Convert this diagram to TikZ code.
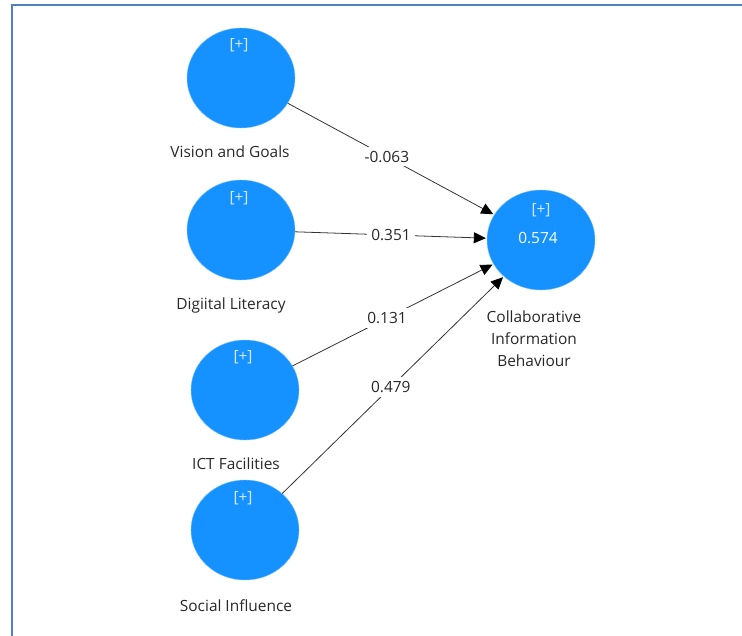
\documentclass[tikz,border=0pt]{standalone}
\usepackage{fontspec}
\setmainfont{Open Sans}
\usepackage{tikz}
\usetikzlibrary{arrows.meta}
\usetikzlibrary{shapes.geometric}
\definecolor{lvblue}{RGB}{21,146,255}
\definecolor{framec}{RGB}{79,129,189}
\definecolor{txt}{RGB}{40,40,40}
\definecolor{plusc}{RGB}{215,232,255}

\begin{document}
\begin{tikzpicture}[x=1bp, y=-1bp, font=\fontsize{15.5}{18}\selectfont, text=txt,
	lv/.style={draw=lvblue!60!white, fill=lvblue, ellipse, minimum width=108bp, minimum height=100bp, inner sep=0pt},
	path/.style={draw=black!80, line width=0.8pt, -{Triangle[length=12bp, width=11bp, color=black]}, shorten >=1pt},
	coef/.style={fill=white, inner sep=4pt},
	plus/.style={text=plusc}]
	\useasboundingbox (0,0) rectangle (742,636);
	\draw[framec, line width=1.5pt] (12,640) -- (12,5) -- (745,5);

	\node[lv] (vg) at (241,78) {};
	\node[lv] (dl) at (241,230) {};
	\node[lv] (ict) at (245,390) {};
	\node[lv] (si) at (245,530) {};
	\node[lv] (cib) at (541,240) {};

	\node[plus] (vgp) at (239,45) {[+]};
	\node[plus] (dlp) at (239,198) {[+]};
	\node[plus] (ictp) at (243,357) {[+]};
	\node[plus] (sip) at (243,498) {[+]};
	\node[plus] (cibp) at (541,210) {[+]};
	\node[text=white] (r2) at (538,238) {0.574};

	\node (vgl) at (230,152) {Vision and Goals};
	\node (dll) at (231,305) {Digiital Literacy};
	\node (ictl) at (236,464) {ICT Facilities};
	\node (sil) at (236,606) {Social Influence};
	\node[align=center, font=\fontsize{15.5}{22}\selectfont] (cibl) at (534,339) {Collaborative\\Information\\Behaviour};

	\path[path] (vg) -- node[coef, pos=.48] (c1) {-0.063} (cib);
	\path[path] (dl) -- node[coef, pos=.5] (c2) {0.351} (cib);
	\path[path] (ict) -- node[coef, pos=.47] (c3) {0.131} (cib);
	\path[path] (si) -- node[coef, pos=.49] (c4) {0.479} (cib);
\end{tikzpicture}
\end{document}
